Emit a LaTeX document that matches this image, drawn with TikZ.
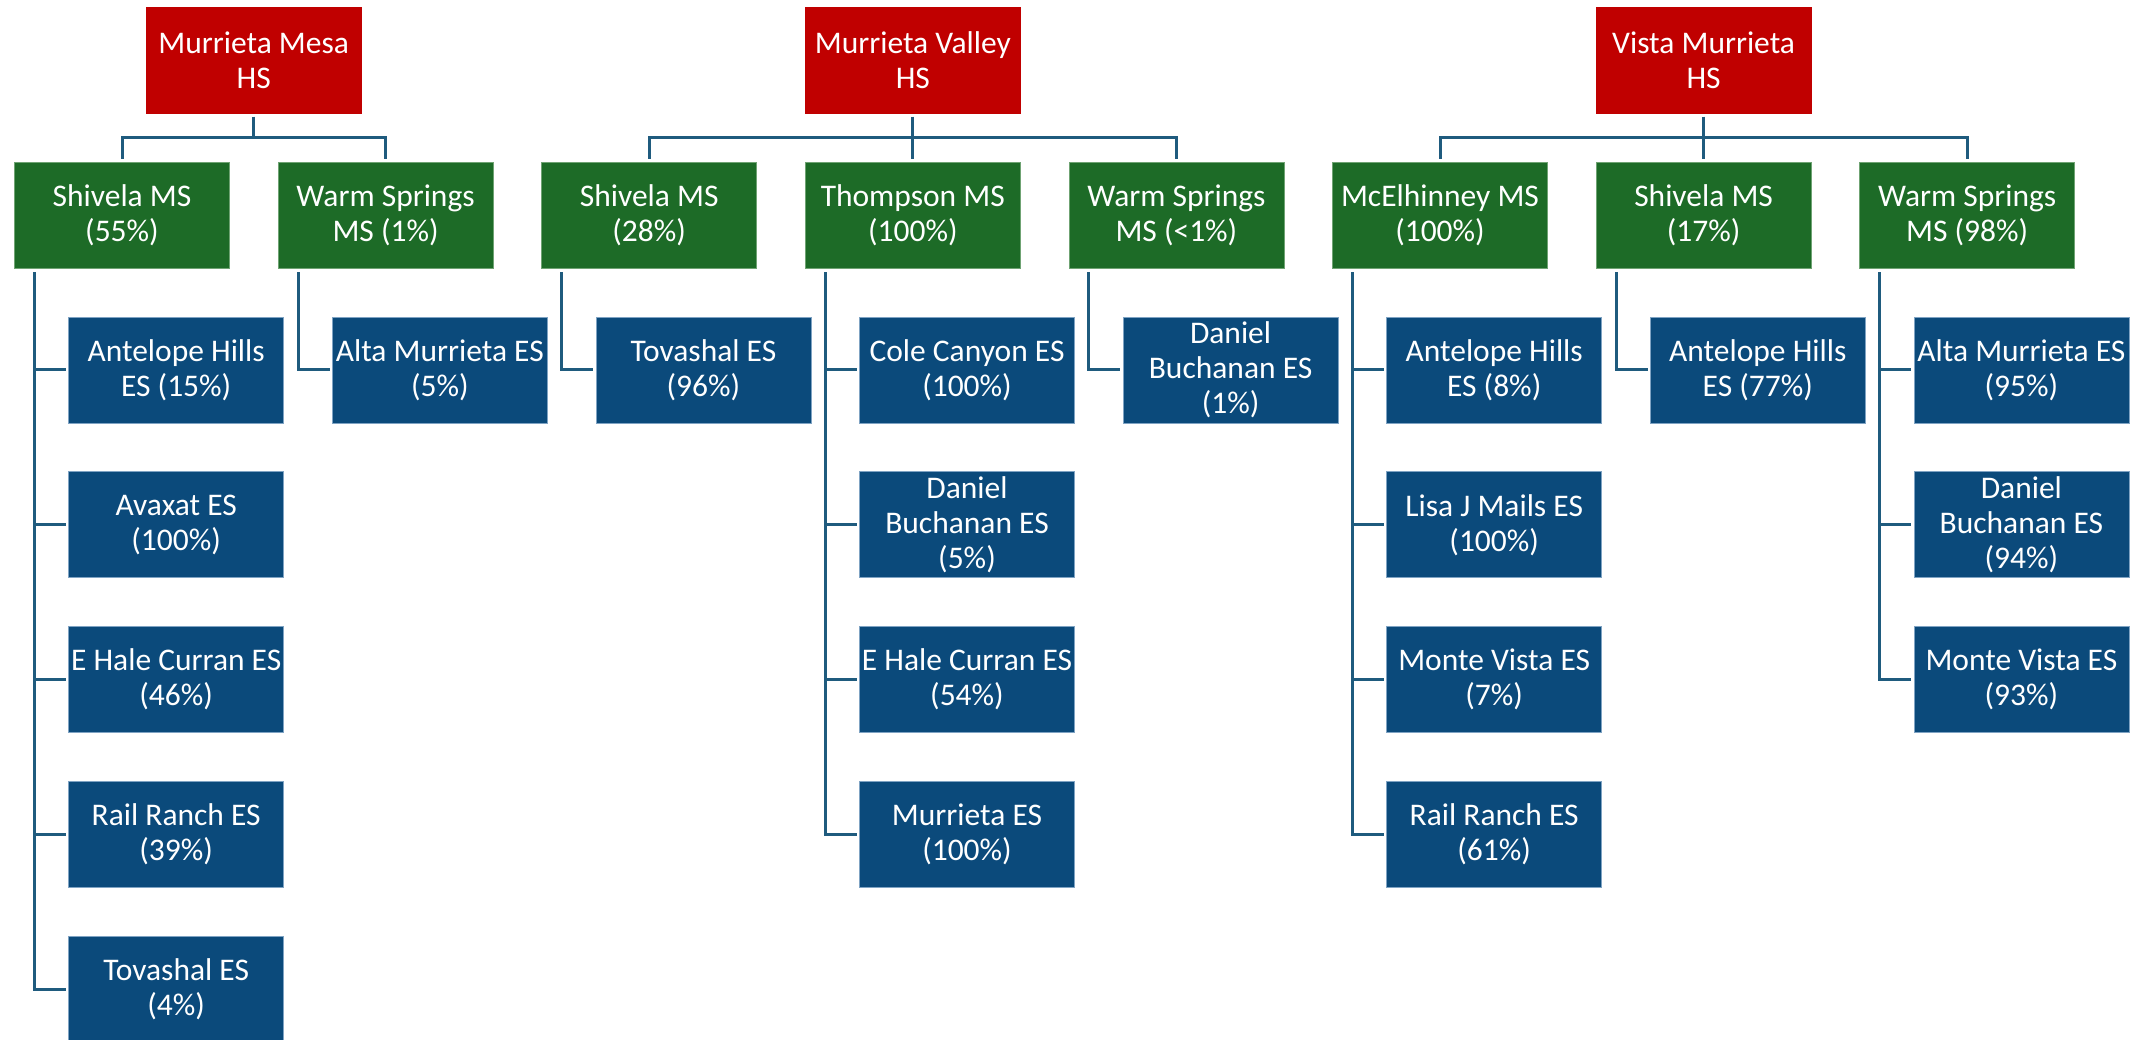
\documentclass[tikz,border=0pt]{standalone}
\usepackage{fontspec}
\setmainfont{Carlito}
\definecolor{hsred}{HTML}{C00000}
\definecolor{msgreen}{HTML}{1D6B27}
\definecolor{msgreenb}{HTML}{6FA373}
\definecolor{esblue}{HTML}{0B4A7B}
\definecolor{esblueb}{HTML}{7FA3C3}
\definecolor{linec}{HTML}{1F5B7E}
\begin{document}
\begin{tikzpicture}[x=1pt,y=-1pt,
  box/.style={rectangle, minimum width=215pt, minimum height=106pt, inner sep=0pt,
    align=center, text=white, font=\fontsize{31.5}{35}\selectfont, line width=0.8pt},
  hsbox/.style={box, fill=hsred, draw=hsred},
  msbox/.style={box, fill=msgreen, draw=msgreenb},
  esbox/.style={box, fill=esblue, draw=esblueb},
  conn/.style={draw=linec, line width=3pt}]
\useasboundingbox (0,0) rectangle (2148,1040);
% high schools
\node[hsbox] (H1) at (253.7,60.3) {Murrieta Mesa\\HS};
\node[hsbox] (H2) at (912.8,60.3) {Murrieta Valley\\HS};
\node[hsbox] (H3) at (1703.6,60.3) {Vista Murrieta\\HS};
% middle schools
\node[msbox] (M0) at (122.0,215.3) {Shivela MS\\(55\%)};
\node[msbox] (M1) at (385.6,215.3) {Warm Springs\\MS (1\%)};
\node[msbox] (M2) at (649.2,215.3) {Shivela MS\\(28\%)};
\node[msbox] (M3) at (912.8,215.3) {Thompson MS\\(100\%)};
\node[msbox] (M4) at (1176.4,215.3) {Warm Springs\\MS (<1\%)};
\node[msbox] (M5) at (1440.0,215.3) {McElhinney MS\\(100\%)};
\node[msbox] (M6) at (1703.6,215.3) {Shivela MS\\(17\%)};
\node[msbox] (M7) at (1967.2,215.3) {Warm Springs\\MS (98\%)};
% elementary schools
\node[esbox] (B00) at (176.2,370.0) {Antelope Hills\\ES (15\%)};
\node[esbox] (B01) at (176.2,524.75) {Avaxat ES\\(100\%)};
\node[esbox] (B02) at (176.2,679.5) {E Hale Curran ES\\(46\%)};
\node[esbox] (B03) at (176.2,834.25) {Rail Ranch ES\\(39\%)};
\node[esbox] (B04) at (176.2,989.0) {Tovashal ES\\(4\%)};
\node[esbox] (B10) at (439.8,370.0) {Alta Murrieta ES\\(5\%)};
\node[esbox] (B20) at (703.4,370.0) {Tovashal ES\\(96\%)};
\node[esbox] (B30) at (967.0,370.0) {Cole Canyon ES\\(100\%)};
\node[esbox] (B31) at (967.0,524.75) {Daniel\\Buchanan ES\\(5\%)};
\node[esbox] (B32) at (967.0,679.5) {E Hale Curran ES\\(54\%)};
\node[esbox] (B33) at (967.0,834.25) {Murrieta ES\\(100\%)};
\node[esbox] (B40) at (1230.6,370.0) {Daniel\\Buchanan ES\\(1\%)};
\node[esbox] (B50) at (1494.2,370.0) {Antelope Hills\\ES (8\%)};
\node[esbox] (B51) at (1494.2,524.75) {Lisa J Mails ES\\(100\%)};
\node[esbox] (B52) at (1494.2,679.5) {Monte Vista ES\\(7\%)};
\node[esbox] (B53) at (1494.2,834.25) {Rail Ranch ES\\(61\%)};
\node[esbox] (B60) at (1757.8,370.0) {Antelope Hills\\ES (77\%)};
\node[esbox] (B70) at (2021.4,370.0) {Alta Murrieta ES\\(95\%)};
\node[esbox] (B71) at (2021.4,524.75) {Daniel\\Buchanan ES\\(94\%)};
\node[esbox] (B72) at (2021.4,679.5) {Monte Vista ES\\(93\%)};
% HS -> MS connectors
\coordinate (J1) at ([yshift=-23.4pt]H1.south);
\coordinate (J2) at ([yshift=-23.4pt]H2.south);
\coordinate (J3) at ([yshift=-23.4pt]H3.south);
\draw[conn] ([yshift=-3pt]H1.south) -- (J1);
\draw[conn] ([yshift=3pt]M0.north) |- (J1) -| ([yshift=3pt]M1.north);
\draw[conn] ([yshift=-3pt]H2.south) -- ([yshift=3pt]M3.north);
\draw[conn] ([yshift=3pt]M2.north) |- (J2) -| ([yshift=3pt]M4.north);
\draw[conn] ([yshift=-3pt]H3.south) -- ([yshift=3pt]M6.north);
\draw[conn] ([yshift=3pt]M5.north) |- (J3) -| ([yshift=3pt]M7.north);
% MS -> ES connectors
\foreach \m/\bs in {M0/{B00,B01,B02,B03,B04}, M1/{B10}, M2/{B20}, M3/{B30,B31,B32,B33},
                    M4/{B40}, M5/{B50,B51,B52,B53}, M6/{B60}, M7/{B70,B71,B72}} {
  \foreach \b in \bs {
    \draw[conn] ([xshift=20.3pt,yshift=-3.4pt]\m.south west) |- ([xshift=-2.3pt]\b.west);
  }
}
\end{tikzpicture}
\end{document}
